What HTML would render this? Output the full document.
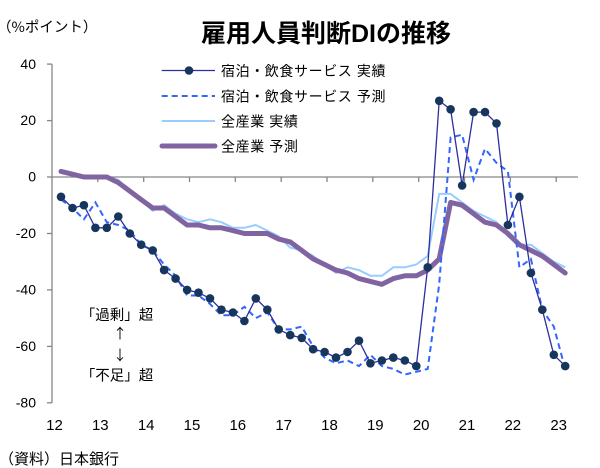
<!DOCTYPE html>
<html>
<head>
<meta charset="utf-8">
<style>
html,body{margin:0;padding:0;background:#fff;}
svg{display:block;}
text{font-family:"Liberation Sans","Noto Sans CJK JP",sans-serif;fill:#000;}
.cjk{font-family:"Noto Sans CJK JP","Liberation Sans",sans-serif;}
</style>
</head>
<body>
<svg width="600" height="468" viewBox="0 0 600 468" xmlns="http://www.w3.org/2000/svg">
<rect x="0" y="0" width="600" height="468" fill="#fff"/>

<!-- title & unit -->
<text x="201" y="42" font-size="25" font-weight="bold">雇用人員判断DIの推移</text>
<text x="-3" y="32" font-size="14.5" class="cjk">（%ポイント）</text>

<!-- y axis -->
<g stroke="#868686" stroke-width="1.3" fill="none">
<line x1="52" y1="64.1" x2="52" y2="402.8"/>
<line x1="47" y1="64.1" x2="52" y2="64.1"/>
<line x1="47" y1="120.6" x2="52" y2="120.6"/>
<line x1="47" y1="177" x2="52" y2="177"/>
<line x1="47" y1="233.5" x2="52" y2="233.5"/>
<line x1="47" y1="289.9" x2="52" y2="289.9"/>
<line x1="47" y1="346.4" x2="52" y2="346.4"/>
<line x1="47" y1="402.8" x2="52" y2="402.8"/>
<!-- x axis at 0 -->
<line x1="52" y1="177" x2="578" y2="177"/>
<line x1="97.8" y1="177" x2="97.8" y2="182"/>
<line x1="143.7" y1="177" x2="143.7" y2="182"/>
<line x1="189.5" y1="177" x2="189.5" y2="182"/>
<line x1="235.3" y1="177" x2="235.3" y2="182"/>
<line x1="281.2" y1="177" x2="281.2" y2="182"/>
<line x1="327" y1="177" x2="327" y2="182"/>
<line x1="372.8" y1="177" x2="372.8" y2="182"/>
<line x1="418.7" y1="177" x2="418.7" y2="182"/>
<line x1="464.5" y1="177" x2="464.5" y2="182"/>
<line x1="510.3" y1="177" x2="510.3" y2="182"/>
<line x1="556.2" y1="177" x2="556.2" y2="182"/>
</g>

<g font-size="14" text-anchor="end">
<text x="36" y="68.8">40</text>
<text x="36" y="125.2">20</text>
<text x="36" y="181.6">0</text>
<text x="36" y="238.1">-20</text>
<text x="36" y="294.5">-40</text>
<text x="36" y="351">-60</text>
<text x="36" y="407.4">-80</text>
</g>

<g font-size="15" text-anchor="middle">
<text x="54.5" y="430">12</text>
<text x="100.3" y="430">13</text>
<text x="146.2" y="430">14</text>
<text x="192" y="430">15</text>
<text x="237.8" y="430">16</text>
<text x="283.7" y="430">17</text>
<text x="329.5" y="430">18</text>
<text x="375.3" y="430">19</text>
<text x="421.2" y="430">20</text>
<text x="467" y="430">21</text>
<text x="512.8" y="430">22</text>
<text x="558.7" y="430">23</text>
</g>

<text x="-1" y="464" font-size="15" class="cjk">（資料）日本銀行</text>

<!-- annotations -->
<text x="117" y="320" font-size="14.5" text-anchor="middle" class="cjk">「過剰」超</text>
<text x="120" y="338.5" font-size="14" text-anchor="middle" class="cjk">↑</text>
<text x="120" y="360.5" font-size="14" text-anchor="middle" class="cjk">↓</text>
<text x="117" y="380.5" font-size="14.5" text-anchor="middle" class="cjk">「不足」超</text>

<!-- 全産業 実績 -->
<polyline fill="none" stroke="#99ccff" stroke-width="2" stroke-linejoin="round"
points="61,171.4 72.5,174.2 83.9,177 95.4,177 106.8,177 118.3,179.8 129.8,191.1 141.2,199.6 152.7,210.9 164.1,205.2 175.6,213.7 187.1,219.3 198.5,222.2 210,219.3 221.4,222.2 232.9,227.8 244.4,227.8 255.8,225 267.3,230.6 278.7,236.3 290.2,247.6 301.7,250.4 313.1,256 324.6,264.5 336,273 347.5,267.3 359,270.1 370.4,275.8 381.9,275.8 393.3,267.3 404.8,267.3 416.3,264.5 427.7,256 439.2,193.9 450.6,193.9 462.1,202.4 473.6,210.9 485,216.5 496.5,222.2 507.9,236.3 519.4,244.7 530.9,244.7 542.3,253.2 553.8,261.7 565.2,267.3"/>

<!-- 全産業 予測 -->
<polyline fill="none" stroke="#8064a2" stroke-width="5" stroke-linejoin="round" stroke-linecap="round"
points="61,171.4 72.5,174.2 83.9,177 95.4,177 106.8,177 118.3,182.6 129.8,191.1 141.2,199.6 152.7,208 164.1,208 175.6,216.5 187.1,225 198.5,225 210,227.8 221.4,227.8 232.9,230.6 244.4,233.5 255.8,233.5 267.3,233.5 278.7,239.1 290.2,241.9 301.7,250.4 313.1,258.9 324.6,264.5 336,270.1 347.5,273 359,278.6 370.4,281.4 381.9,284.3 393.3,278.6 404.8,275.8 416.3,275.8 427.7,270.1 439.2,258.9 450.6,202.4 462.1,205.2 473.6,213.7 485,222.2 496.5,225 507.9,233.5 519.4,244.7 530.9,250.4 542.3,256 553.8,264.5 565.2,273"/>

<!-- 宿泊・飲食 予測 -->
<polyline fill="none" stroke="#3366ff" stroke-width="2" stroke-dasharray="6,4"
points="61,199.6 72.5,208 83.9,219.3 95.4,202.4 106.8,222.2 118.3,225 129.8,230.6 141.2,244.7 152.7,250.4 164.1,264.5 175.6,275.8 187.1,295.5 198.5,295.5 210,304 221.4,315.3 232.9,315.3 244.4,306.8 255.8,318.1 267.3,312.5 278.7,329.4 290.2,329.4 301.7,326.6 313.1,346.4 324.6,357.6 336,363.3 347.5,360.5 359,366.1 370.4,354.8 381.9,366.1 393.3,368.9 404.8,374.6 416.3,371.8 427.7,368.9 439.2,284.3 450.6,137.5 462.1,134.7 473.6,179.8 485,148.8 496.5,162.9 507.9,171.4 519.4,267.3 530.9,258.9 542.3,309.7 553.8,326.6 565.2,368.9"/>

<!-- 宿泊・飲食 実績 -->
<polyline fill="none" stroke="#2e2ea0" stroke-width="1.3"
points="61,196.8 72.5,208 83.9,205.2 95.4,227.8 106.8,227.8 118.3,216.5 129.8,233.5 141.2,244.7 152.7,250.4 164.1,270.1 175.6,278.6 187.1,289.9 198.5,292.7 210,298.4 221.4,309.7 232.9,312.5 244.4,321 255.8,298.4 267.3,309.7 278.7,329.4 290.2,335.1 301.7,337.9 313.1,349.2 324.6,352 336,357.6 347.5,352 359,340.7 370.4,363.3 381.9,360.5 393.3,357.6 404.8,360.5 416.3,366.1 427.7,267.3 439.2,100.8 450.6,109.3 462.1,185.5 473.6,112.1 485,112.1 496.5,123.4 507.9,225 519.4,196.8 530.9,273 542.3,309.7 553.8,354.8 565.2,366.1"/>
<g fill="#17365d">
<circle cx="61" cy="196.8" r="4.3"/><circle cx="72.5" cy="208" r="4.3"/><circle cx="83.9" cy="205.2" r="4.3"/><circle cx="95.4" cy="227.8" r="4.3"/><circle cx="106.8" cy="227.8" r="4.3"/><circle cx="118.3" cy="216.5" r="4.3"/><circle cx="129.8" cy="233.5" r="4.3"/><circle cx="141.2" cy="244.7" r="4.3"/><circle cx="152.7" cy="250.4" r="4.3"/><circle cx="164.1" cy="270.1" r="4.3"/><circle cx="175.6" cy="278.6" r="4.3"/><circle cx="187.1" cy="289.9" r="4.3"/><circle cx="198.5" cy="292.7" r="4.3"/><circle cx="210" cy="298.4" r="4.3"/><circle cx="221.4" cy="309.7" r="4.3"/><circle cx="232.9" cy="312.5" r="4.3"/><circle cx="244.4" cy="321" r="4.3"/><circle cx="255.8" cy="298.4" r="4.3"/><circle cx="267.3" cy="309.7" r="4.3"/><circle cx="278.7" cy="329.4" r="4.3"/><circle cx="290.2" cy="335.1" r="4.3"/><circle cx="301.7" cy="337.9" r="4.3"/><circle cx="313.1" cy="349.2" r="4.3"/><circle cx="324.6" cy="352" r="4.3"/><circle cx="336" cy="357.6" r="4.3"/><circle cx="347.5" cy="352" r="4.3"/><circle cx="359" cy="340.7" r="4.3"/><circle cx="370.4" cy="363.3" r="4.3"/><circle cx="381.9" cy="360.5" r="4.3"/><circle cx="393.3" cy="357.6" r="4.3"/><circle cx="404.8" cy="360.5" r="4.3"/><circle cx="416.3" cy="366.1" r="4.3"/><circle cx="427.7" cy="267.3" r="4.3"/><circle cx="439.2" cy="100.8" r="4.3"/><circle cx="450.6" cy="109.3" r="4.3"/><circle cx="462.1" cy="185.5" r="4.3"/><circle cx="473.6" cy="112.1" r="4.3"/><circle cx="485" cy="112.1" r="4.3"/><circle cx="496.5" cy="123.4" r="4.3"/><circle cx="507.9" cy="225" r="4.3"/><circle cx="519.4" cy="196.8" r="4.3"/><circle cx="530.9" cy="273" r="4.3"/><circle cx="542.3" cy="309.7" r="4.3"/><circle cx="553.8" cy="354.8" r="4.3"/><circle cx="565.2" cy="366.1" r="4.3"/>
</g>

<!-- legend -->
<line x1="161.7" y1="70.5" x2="215" y2="70.5" stroke="#2e2ea0" stroke-width="1.3"/>
<circle cx="189" cy="70.5" r="4.3" fill="#17365d"/>
<text x="221" y="75.8" font-size="14" letter-spacing="0.6">宿泊・飲食サービス 実績</text>

<line x1="161.7" y1="96" x2="215" y2="96" stroke="#3366ff" stroke-width="2" stroke-dasharray="6,4"/>
<text x="221" y="101.3" font-size="14" letter-spacing="0.6">宿泊・飲食サービス 予測</text>

<line x1="161.7" y1="121" x2="215" y2="121" stroke="#99ccff" stroke-width="2"/>
<text x="221" y="126.3" font-size="14" letter-spacing="0.6">全産業 実績</text>

<line x1="162" y1="146" x2="215" y2="146" stroke="#8064a2" stroke-width="5" stroke-linecap="round"/>
<text x="221" y="151.3" font-size="14" letter-spacing="0.6">全産業 予測</text>
</svg>
</body>
</html>
